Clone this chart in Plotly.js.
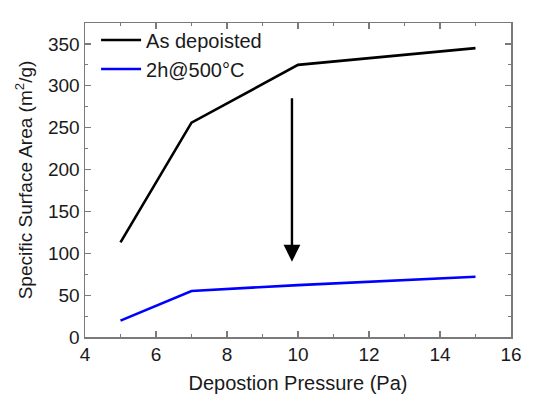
<!DOCTYPE html>
<html>
<head>
<meta charset="utf-8">
<script src="https://cdn.plot.ly/plotly-3.0.1.min.js"></script>
<style>
  html, body { margin: 0; padding: 0; background: #ffffff; }
  #chart { width: 539px; height: 398px; }
</style>
</head>
<body>
<div id="chart"></div>
<script>
// Deposition pressure (Pa)
const pressure = [5, 7, 10, 15];
// Specific surface area (m^2/g)
const asDeposited = [113, 256, 325, 345];
const annealed = [19.5, 55, 62, 72];
const seriesNames = ['As depoisted', '2h@500°C'];

// Arrow showing the drop after annealing (data coordinates)
const arrowX = 9.83;
const arrowFrom = 287;
const arrowTo = 90;

const font = 'Arial, "Liberation Sans", sans-serif';
const frame = '#7a7a7a';
const ink = '#1a1a1a';

const traces = [
  { x: pressure, y: asDeposited, name: seriesNames[0], mode: 'lines',
    line: { color: '#000000', width: 2.6 } },
  { x: pressure, y: annealed, name: seriesNames[1], mode: 'lines',
    line: { color: '#0000ff', width: 2.6 } }
];

const axisCommon = {
  showgrid: false, zeroline: false,
  showline: true, linecolor: frame, linewidth: 1.5, mirror: 'ticks',
  ticks: 'inside', ticklen: 6, tickwidth: 1.2, tickcolor: frame,
  tickfont: { family: font, size: 19, color: ink }
};

const layout = {
  width: 539, height: 398,
  margin: { l: 85, r: 28, t: 23, b: 61 },
  paper_bgcolor: '#ffffff', plot_bgcolor: '#ffffff',
  font: { family: font, color: ink },
  showlegend: true,
  legend: { x: 0.026, y: 1.008, xanchor: 'left', yanchor: 'top',
            bgcolor: 'rgba(0,0,0,0)', borderwidth: 0,
            font: { family: font, size: 20, color: ink },
            tracegroupgap: 0, itemwidth: 40 },
  xaxis: Object.assign({}, axisCommon, {
    range: [4, 16], dtick: 2,
    minor: { dtick: 1, ticks: 'inside', ticklen: 3, tickcolor: frame, tickwidth: 1 },
    title: { text: 'Depostion Pressure (Pa)', standoff: 11,
             font: { family: font, size: 20, color: ink } }
  }),
  yaxis: Object.assign({}, axisCommon, {
    range: [0, 375], dtick: 50,
    minor: { dtick: 25, ticks: 'inside', ticklen: 3, tickcolor: frame, tickwidth: 1 },
    title: { text: 'Specific Surface Area (m<sup>2</sup>/g)', standoff: 10,
             font: { family: font, size: 19, color: ink } }
  }),
  annotations: [{
    x: arrowX, y: arrowTo, ax: arrowX, ay: arrowFrom,
    xref: 'x', yref: 'y', axref: 'x', ayref: 'y',
    text: '', showarrow: true, arrowhead: 2, arrowsize: 1.4,
    arrowwidth: 2.4, arrowcolor: '#000000'
  }]
};

Plotly.newPlot('chart', traces, layout, { displayModeBar: false, staticPlot: true });
</script>
</body>
</html>
